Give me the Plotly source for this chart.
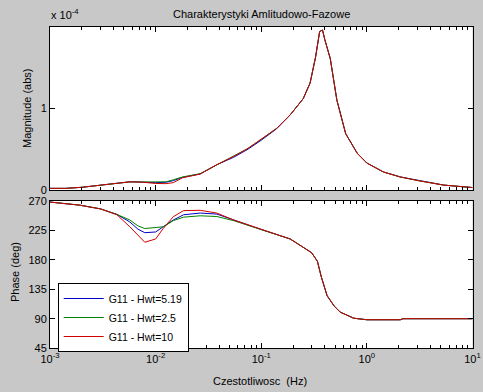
import plotly.graph_objects as go

# ---------------- data ----------------
mag_freq = [0.001, 0.0014, 0.002, 0.003, 0.0042, 0.0057, 0.0075, 0.01, 0.0125, 0.0147,
            0.018, 0.0264, 0.038, 0.0547, 0.075, 0.1, 0.14, 0.188, 0.25, 0.29, 0.327,
            0.357, 0.38, 0.40, 0.45, 0.52, 0.63, 0.81, 1.0, 1.44, 2.07, 3.2, 5.35, 10]
mag_red = [0.02, 0.02, 0.033, 0.06, 0.075, 0.10, 0.096, 0.08, 0.078, 0.09,
           0.15, 0.196, 0.31, 0.41, 0.51, 0.62, 0.755, 0.92, 1.12, 1.31, 1.63,
           1.94, 1.96, 1.84, 1.61, 1.10, 0.69, 0.45, 0.33, 0.22, 0.16, 0.11, 0.06, 0.03]
mag_blue = [0.02, 0.02, 0.033, 0.06, 0.075, 0.10, 0.097, 0.09, 0.095, 0.115,
            0.155, 0.196, 0.31, 0.40, 0.50, 0.61, 0.75, 0.92, 1.12, 1.31, 1.63,
            1.94, 1.96, 1.84, 1.61, 1.10, 0.69, 0.45, 0.33, 0.22, 0.16, 0.11, 0.06, 0.03]
mag_green = [0.02, 0.02, 0.033, 0.06, 0.075, 0.10, 0.098, 0.10, 0.10, 0.125,
             0.16, 0.2, 0.31, 0.41, 0.51, 0.62, 0.755, 0.92, 1.12, 1.31, 1.63,
             1.94, 1.96, 1.84, 1.61, 1.10, 0.69, 0.45, 0.33, 0.22, 0.16, 0.11, 0.06, 0.03]
mag_scale = 1e-4

phase_freq = [0.001, 0.0019, 0.003, 0.0043, 0.0057, 0.0068, 0.0079, 0.01, 0.0118, 0.0147,
              0.0184, 0.0264, 0.038, 0.0547, 0.1, 0.188, 0.30, 0.34, 0.37, 0.42, 0.49,
              0.56, 0.75, 1.0, 2.07, 2.2, 10]
phase_red = [268.4, 263.7, 258, 249, 230.6, 217, 207, 212, 228, 246,
             255.3, 255.8, 251.6, 241, 226.4, 212, 191, 178, 154.3, 125.4, 109.6,
             100.2, 91, 88.6, 88.6, 90.2, 90.2]
phase_blue = [268.4, 263.7, 258, 249.5, 238, 227, 221.6, 222.7, 230.6, 241,
              249, 251.6, 250, 241, 226.4, 212, 191, 178, 154.3, 125.4, 109.6,
              100.2, 91, 88.6, 88.6, 90.2, 90.2]
phase_green = [268.4, 263.7, 258, 249.5, 241, 232, 228, 229.5, 230.6, 240,
               245.3, 247.4, 246.3, 240, 226.4, 212, 191, 178, 154.3, 125.4, 109.6,
               100.2, 91, 88.6, 88.6, 90.2, 90.2]

series_names = ["G11 - Hwt=5.19", "G11 - Hwt=2.5", "G11 - Hwt=10"]
series_colors = ["#0000c8", "#008000", "#d00000"]

x_decades = [1e-3, 1e-2, 1e-1, 1e0, 1e1]
x_decade_labels = ["10<sup>-3</sup>", "10<sup>-2</sup>", "10<sup>-1</sup>",
                   "10<sup>0</sup>", "10<sup>1</sup>"]
mag_ticks = [0, 1e-4]
mag_tick_labels = ["0", "1"]
phase_ticks = [45, 90, 135, 180, 225, 270]

# ---------------- figure ----------------
W, H = 483, 392
minor_vals = [m * d for d in x_decades[:-1] for m in range(2, 10)]

fig = go.Figure()
mags = [mag_blue, mag_green, mag_red]
phases = [phase_blue, phase_green, phase_red]
for name, col, m, p in zip(series_names, series_colors, mags, phases):
    fig.add_trace(go.Scatter(x=mag_freq, y=[v * mag_scale for v in m], mode="lines",
                             line=dict(color=col, width=1), showlegend=False,
                             xaxis="x", yaxis="y"))
    fig.add_trace(go.Scatter(x=phase_freq, y=p, mode="lines", name=name,
                             line=dict(color=col, width=1),
                             xaxis="x2", yaxis="y2"))

font = dict(family="Liberation Sans, Arial, sans-serif", size=11, color="black")
xdom = [50 / W, 472.5 / W]

common_x = dict(type="log", range=[-3, 1], domain=xdom, showgrid=False, zeroline=False,
                showline=True, linecolor="black", linewidth=1, mirror="allticks",
                ticks="inside", ticklen=5, tickcolor="black",
                tickmode="array", tickvals=x_decades,
                minor=dict(tickmode="array", tickvals=minor_vals, ticks="inside",
                           ticklen=3, tickcolor="black", showgrid=False))
common_y = dict(showgrid=False, zeroline=False, showline=True, linecolor="black",
                linewidth=1, mirror="allticks", ticks="inside", ticklen=5,
                tickcolor="black", tickfont=font)

fig.update_layout(
    width=W, height=H, margin=dict(l=0, r=0, t=0, b=0, autoexpand=False),
    paper_bgcolor="#c8c8c8", plot_bgcolor="white", font=font,
    xaxis=dict(common_x, anchor="y", showticklabels=False),
    yaxis=dict(common_y, domain=[1 - 190 / H, 1 - 26.7 / H], range=[0, 2e-4],
               tickmode="array", tickvals=mag_ticks, ticktext=mag_tick_labels, anchor="x"),
    xaxis2=dict(common_x, anchor="y2", ticktext=x_decade_labels, tickfont=font),
    yaxis2=dict(common_y, domain=[1 - 348.3 / H, 1 - 201 / H], range=[45, 270],
                tickmode="array", tickvals=phase_ticks, anchor="x2"),
    legend=dict(x=57.7 / W, y=1 - 283 / H, xanchor="left", yanchor="top",
                bgcolor="white", bordercolor="black", borderwidth=1,
                font=dict(family="Liberation Sans, Arial, sans-serif", size=10.5),
                tracegroupgap=0, itemwidth=40),
    showlegend=True,
)

fig.add_annotation(text="Charakterystyki Amlitudowo-Fazowe", xref="paper", yref="paper",
                   x=261 / W, y=1 - 14 / H, showarrow=False, font=font,
                   xanchor="center", yanchor="middle")
fig.add_annotation(text="x 10<sup>-4</sup>", xref="paper", yref="paper",
                   x=49 / W, y=1 - 14 / H, showarrow=False, font=font,
                   xanchor="left", yanchor="middle")
fig.add_annotation(text="Magnitude (abs)", xref="paper", yref="paper",
                   x=27 / W, y=1 - 108 / H, showarrow=False, font=font, textangle=-90,
                   xanchor="center", yanchor="middle")
fig.add_annotation(text="Phase (deg)", xref="paper", yref="paper",
                   x=15 / W, y=1 - 272 / H, showarrow=False, font=font, textangle=-90,
                   xanchor="center", yanchor="middle")
fig.add_annotation(text="Czestotliwosc  (Hz)", xref="paper", yref="paper",
                   x=260 / W, y=1 - 381 / H, showarrow=False, font=font,
                   xanchor="center", yanchor="middle")

fig.write_html("out.html", config={"displayModeBar": False},
               post_script="document.body.style.margin='0';document.body.style.overflow='hidden';")
